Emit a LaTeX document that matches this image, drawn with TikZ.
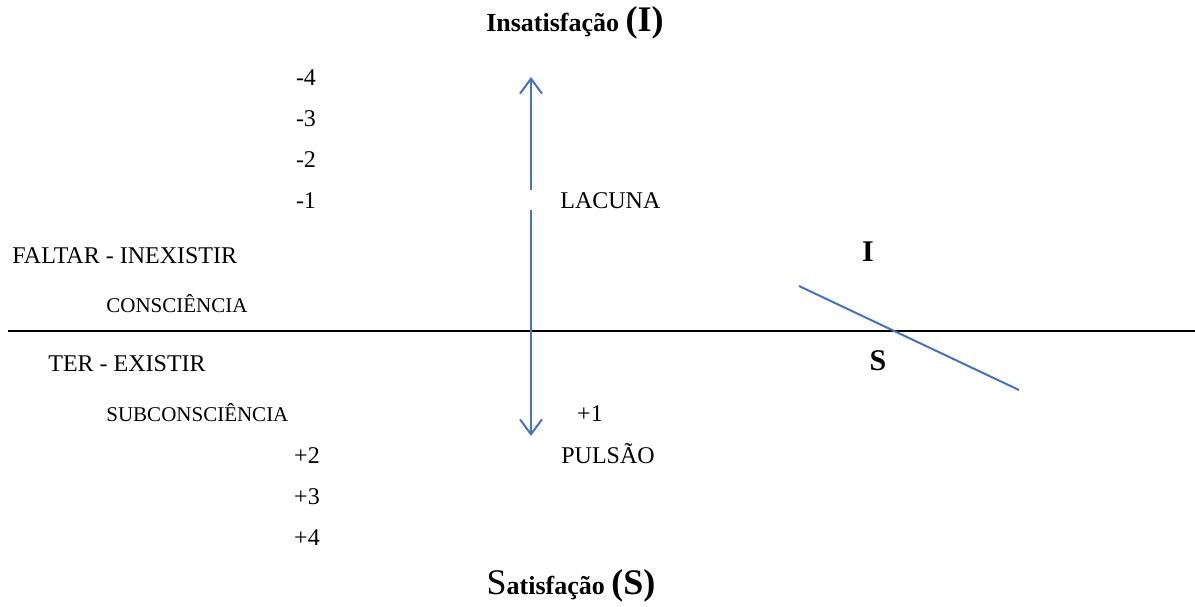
\documentclass[tikz,border=0pt]{standalone}
\usepackage{fontspec}
\setmainfont{Liberation Serif}
\usetikzlibrary{arrows.meta}
\definecolor{lineblue}{RGB}{68,114,196}
\tikzset{
  txt/.style={inner sep=0pt,anchor=base,font=\fontsize{12}{14}\selectfont},
  txtsmall/.style={inner sep=0pt,anchor=base west,font=\fontsize{10.5}{12}\selectfont},
  title/.style={inner sep=0pt,anchor=base,font=\bfseries\fontsize{13}{16}\selectfont},
  side/.style={inner sep=0pt,anchor=base,font=\bfseries\fontsize{15}{18}\selectfont},
  vline/.style={draw=lineblue,line width=1pt},
  tip/.style={vline,-{Straight Barb[length=7.5pt,width=11pt]}}
}
\begin{document}
\begin{tikzpicture}[x=0.5pt,y=-0.5pt]
\useasboundingbox (0,0) rectangle (1195,606);
% titles
\node[title] (top) at (575,31) {Insatisfação {\fontsize{18}{20}\selectfont(I)}};
\node[title] (bottom) at (571,594) {{\mdseries\fontsize{18}{20}\selectfont S}atisfação {\fontsize{18}{20}\selectfont(S)}};
% scale
\foreach \n/\y in {4/85,3/126,2/167,1/208}
  \node[txt] (m\n) at (306,\y) {-\n};
\foreach \n/\y in {2/463,3/504,4/545}
  \node[txt] (p\n) at (307,\y) {+\n};
\node[txt] (p1) at (590,421) {+1};
\node[txt,anchor=base west] (lacuna) at (560,208) {LACUNA};
\node[txt,anchor=base west] (pulsao) at (561,463) {PULSÃO};
% left labels
\node[txt,anchor=base west] (faltar) at (12,263) {FALTAR - INEXISTIR};
\node[txtsmall] (consc) at (106,312) {CONSCIÊNCIA};
\node[txt,anchor=base west] (ter) at (48,371) {TER - EXISTIR};
\node[txtsmall] (subconsc) at (106,421) {SUBCONSCIÊNCIA};
% right labels
\node[side] (ri) at (868,261) {I};
\node[side] (rs) at (878,370) {S};
% lines
\coordinate (hl) at (8,331);
\coordinate (hr) at (1195,331);
\draw[line width=0.8pt] (hl) -- (hr);
\coordinate (atop) at (531,77);
\coordinate (gapup) at (531,190);
\coordinate (gapdown) at (531,210);
\coordinate (abot) at (531,436);
\draw[tip] (gapup) -- (atop);
\draw[tip] (gapdown) -- (abot);
\coordinate (dl) at (799,286);
\coordinate (dr) at (1019,390);
\draw[vline] (dl) -- (dr);
\end{tikzpicture}
\end{document}
